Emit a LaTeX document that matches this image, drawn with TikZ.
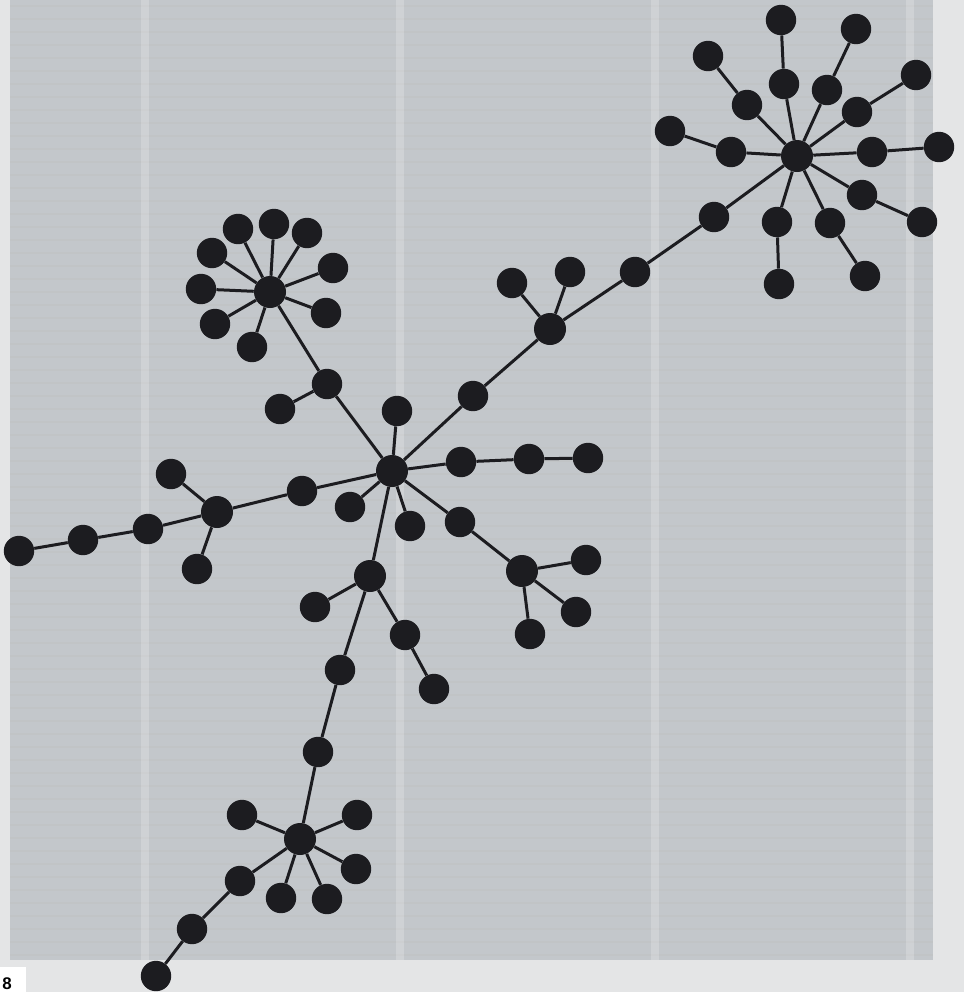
\documentclass[tikz,border=0pt]{standalone}
\usepackage{fontspec}
\setmainfont{Liberation Sans}
\usetikzlibrary{backgrounds}
\definecolor{dotc}{HTML}{1C1C20}
\definecolor{panel}{HTML}{C3C7CB}
\definecolor{outer}{HTML}{E4E5E6}
\tikzset{
  nd/.style  = {circle, fill=dotc, minimum size=7.6mm, inner sep=0pt},
  hub/.style = {circle, fill=dotc, minimum size=8mm, inner sep=0pt},
  ln/.style  = {line width=0.75mm, dotc},
}

\begin{document}
\begin{tikzpicture}[x=0.25mm, y=-0.25mm]
  \useasboundingbox (0,0) rectangle (964,992);
  % backdrop
  \fill[outer] (0,0) rectangle (964,992);
  \fill[panel] (10,0) rectangle (933,960);
  \foreach \by in {6,19,...,960}
    \draw[black!25, line width=0.6mm, opacity=0.35] (10,\by) -- (933,\by);
  \foreach \bx in {145,400,655,910}
    \fill[white, opacity=0.2] (\bx-4,0) rectangle (\bx+4,960);
  \fill[white] (0,967) rectangle (26,992);
  \node[anchor=south west, inner sep=0pt, font=\fontsize{12}{12}\selectfont\bfseries] (pg) at (2,990) {8};

  % hubs
  \foreach \n/\x/\y in {ht/797/156, hr/550/329, hc/392/471, hs/522/571,
                        hm/370/576, hb/300/839, hl/217/512, hf/270/292}
    \node[hub] (\n) at (\x,\y) {};

  % top star
  \foreach \n/\x/\y in {t1/784/84, u1/781/20, t2/827/90, u2/856/29,
                        t3/857/112, u3/916/75, t4/872/152, u4/939/147,
                        t5/862/195, u5/922/222, t6/830/223, u6/865/276,
                        t7/777/222, u7/779/284, t8/747/105, u8/708/56,
                        t9/731/152, u9/670/131}
    \node[nd] (\n) at (\x,\y) {};
  % chain and centre
  \foreach \n/\x/\y in {k1/714/217, k2/635/272, r1/512/283, r2/570/272,
                        k3/473/396, c1/397/411, c2/461/462, c3/529/459,
                        c4/588/458, c5/460/522, s1/586/560, s2/576/612,
                        s3/530/634, c6/410/526, c7/350/507, m1/315/607,
                        m2/405/635, m3/434/689, m4/340/670, m5/318/752,
                        c8/302/491, l1/171/474, l2/197/569, l3/148/529,
                        l4/83/540, l5/19/551, c9/327/384, c10/280/409}
    \node[nd] (\n) at (\x,\y) {};
  % left flower
  \foreach \n/\x/\y in {f1/238/229, f2/274/224, f3/307/233, f4/333/268,
                        f5/326/313, f6/252/347, f7/215/324, f8/201/289,
                        f9/212/253}
    \node[nd] (\n) at (\x,\y) {};
  % bottom star
  \foreach \n/\x/\y in {b1/242/815, b2/357/815, b3/356/869, b4/327/899,
                        b5/281/898, b6/240/881, b7/192/929, b8/156/976}
    \node[nd] (\n) at (\x,\y) {};

  % links
  \foreach \a/\b in {ht/t1, t1/u1, ht/t2, t2/u2, ht/t3, t3/u3, ht/t4, t4/u4,
                     ht/t5, t5/u5, ht/t6, t6/u6, ht/t7, t7/u7, ht/t8, t8/u8,
                     ht/t9, t9/u9, ht/k1, k1/k2, k2/hr, hr/r1, hr/r2, hr/k3,
                     k3/hc, hc/c1, hc/c2, c2/c3, c3/c4, hc/c5, c5/hs,
                     hs/s1, hs/s2, hs/s3, hc/c6, hc/c7, hc/hm, hm/m1, hm/m2,
                     m2/m3, hm/m4, m4/m5, m5/hb, hc/c8, c8/hl, hl/l1, hl/l2,
                     hl/l3, l3/l4, l4/l5, hc/c9, c9/c10, c9/hf,
                     hf/f1, hf/f2, hf/f3, hf/f4, hf/f5, hf/f6, hf/f7, hf/f8,
                     hf/f9, hb/b1, hb/b2, hb/b3, hb/b4, hb/b5, hb/b6, b6/b7,
                     b7/b8}
    \draw[ln] (\a) -- (\b);
\end{tikzpicture}
\end{document}
